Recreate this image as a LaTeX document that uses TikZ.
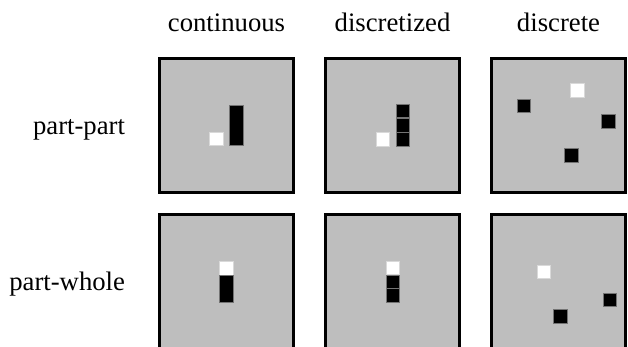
\documentclass[tikz,border=0pt]{standalone}
\usepackage{fontspec}
\setmainfont{Liberation Serif}
\usepackage{tikz}

\definecolor{panelgray}{RGB}{190,190,190}

\begin{document}
\begin{tikzpicture}[x=1pt,y=-1pt,
  font=\fontsize{26.7}{32}\selectfont,
  panel/.style={draw, line width=2.7pt, fill=panelgray, minimum size=134.3pt, inner sep=0pt},
  blk/.style={draw=black!55, line width=0.6pt, fill=black, minimum size=13.4pt, inner sep=0pt},
  wht/.style={draw=white!85!black, line width=0.6pt, fill=white, minimum size=13.4pt, inner sep=0pt}]

\useasboundingbox (0,0) rectangle (628,347);
\clip (0,0) rectangle (628,347);

% column and row labels
\node[anchor=base] (cont) at (226.5,32) {continuous};
\node[anchor=base] (dzed) at (392.5,32) {discretized};
\node[anchor=base] (disc) at (558.5,32) {discrete};

\node[anchor=base east] (pp) at (128.5,134.5) {part-part};
\node[anchor=base east] (pw) at (128.5,290.5) {part-whole};

% panels
\node[panel] (p11) at (226.5,125.5) {};
\node[panel] (p12) at (392.5,125.5) {};
\node[panel] (p13) at (558.5,125.5) {};
\node[panel] (p21) at (226.5,281.5) {};
\node[panel] (p22) at (392.5,281.5) {};
\node[panel] (p23) at (558.5,281.5) {};

% part-part
\node[wht] (w11) at (216.3,138.7) {};
\node[blk, minimum height=40.4pt] (b11) at (236.3,125.3) {};

\node[wht] (w12) at (382.7,139.2) {};
\node[blk] (b12a) at (403,111.1) {};
\node[blk] (b12b) at (403,125.3) {};
\node[blk] (b12c) at (403,139.5) {};

\node[wht] (w13) at (577.3,90.2) {};
\node[blk] (b13a) at (524,105.8) {};
\node[blk] (b13b) at (608.3,121.2) {};
\node[blk] (b13c) at (571.2,155.2) {};

% part-whole
\node[wht] (w21) at (226.3,268.3) {};
\node[blk, minimum height=26.7pt] (b21) at (226.3,288.7) {};

\node[wht] (w22) at (393,267.7) {};
\node[blk] (b22a) at (393,281.5) {};
\node[blk] (b22b) at (393,295.2) {};

\node[wht] (w23) at (543.7,272) {};
\node[blk] (b23a) at (609.7,299.7) {};
\node[blk] (b23b) at (560.3,316.3) {};

\end{tikzpicture}
\end{document}
